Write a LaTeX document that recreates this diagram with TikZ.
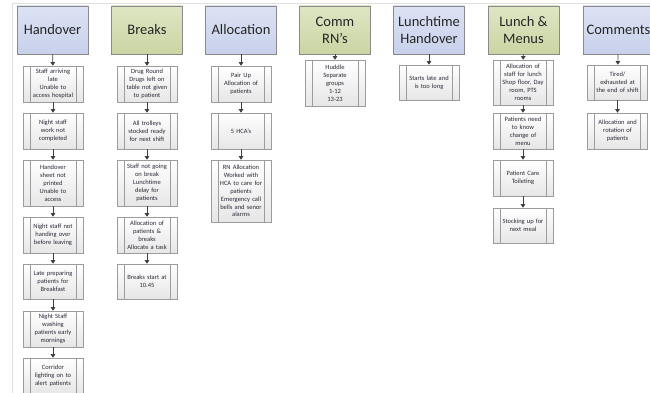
\documentclass[tikz,border=0pt]{standalone}
\usepackage{fontspec}
\setmainfont{Carlito}
\usetikzlibrary{arrows.meta,shadings}
\definecolor{hdrline}{HTML}{8A8A8A}
\definecolor{bluetop}{HTML}{DDE3F4}
\definecolor{bluebot}{HTML}{C8D1EB}
\definecolor{greentop}{HTML}{DEE6C4}
\definecolor{greenbot}{HTML}{CAD5A3}
\definecolor{boxline}{HTML}{9C9C9C}
\definecolor{boxbot}{HTML}{E6E6E6}
\definecolor{arrowc}{HTML}{404040}
\definecolor{txt}{HTML}{2A2A38}
\tikzset{
  hdr/.style={draw=hdrline, line width=0.8pt, minimum width=71pt, minimum height=48pt,
    inner sep=0pt, align=center, font=\fontsize{14.5}{17}\selectfont, text=black!85},
  bluehdr/.style={hdr, top color=bluetop, bottom color=bluebot},
  greenhdr/.style={hdr, top color=greentop, bottom color=greenbot},
  stepbox/.style={draw=boxline, line width=0.6pt, minimum width=60pt, inner xsep=7pt, inner ysep=0pt,
    text width=46pt, align=center, top color=white, bottom color=boxbot,
    font=\fontsize{6.5}{7.9}\selectfont, text=txt,
    path picture={
      \draw[boxline, line width=0.6pt] ([xshift=7pt]path picture bounding box.north west) -- ([xshift=7pt]path picture bounding box.south west);
      \draw[boxline, line width=0.6pt] ([xshift=-7pt]path picture bounding box.north east) -- ([xshift=-7pt]path picture bounding box.south east);
    }},
  link/.style={draw=arrowc, line width=0.6pt, -{Triangle[width=4.5pt,length=3.5pt]}}
}
\begin{document}
\begin{tikzpicture}[x=1pt,y=-1pt]
\useasboundingbox (0,0) rectangle (650,393);
\clip (0,0) rectangle (650,393);
\draw[black!12, line width=0.5pt] (12,400) -- (12,3) -- (660,3);
% Headers
\node[bluehdr]  (H) at (52.5,30) {Handover};
\node[greenhdr] (B) at (147,30) {Breaks};
\node[bluehdr]  (A) at (241,30) {Allocation};
\node[greenhdr] (C) at (335,30) {Comm\\RN’s};
\node[bluehdr]  (L) at (429,30) {Lunchtime\\Handover};
\node[greenhdr] (M) at (523.5,30) {Lunch \&\\Menus};
\node[bluehdr]  (K) at (618.5,30) {Comments};
% Handover column
\node[stepbox, minimum height=36pt] (h1) at (53,84) {Staff arriving\\late\\Unable to\\access hospital};
\node[stepbox, minimum height=36pt] (h2) at (53,131) {Night staff\\work not\\completed};
\node[stepbox, minimum height=46pt] (h3) at (53,183) {Handover\\sheet not\\printed\\Unable to\\access};
\node[stepbox, minimum height=36pt] (h4) at (53,235) {Night staff not\\handing over\\before leaving};
\node[stepbox, minimum height=35pt] (h5) at (53,281.5) {Late preparing\\patients for\\Breakfast};
\node[stepbox, minimum height=36pt] (h6) at (53,329) {Night Staff\\washing\\patients early\\mornings};
\node[stepbox, minimum height=36pt] (h7) at (53,376) {Corridor\\lighting on to\\alert patients};
\draw[link] (H) -- (h1);
\draw[link] (h1) -- (h2);
\draw[link] (h2) -- (h3);
\draw[link] (h3) -- (h4);
\draw[link] (h4) -- (h5);
\draw[link] (h5) -- (h6);
\draw[link] (h6) -- (h7);
% Breaks column
\node[stepbox, minimum height=36pt] (b1) at (147,84) {Drug Round\\Drugs left on\\table not given\\to patient};
\node[stepbox, minimum height=36pt] (b2) at (147,131) {All trolleys\\stocked ready\\for next shift};
\node[stepbox, minimum height=46pt] (b3) at (147,183) {Staff not going\\on break\\Lunchtime\\delay for\\patients};
\node[stepbox, minimum height=36pt] (b4) at (147,235) {Allocation of\\patients \&\\breaks\\Allocate a task};
\node[stepbox, minimum height=35pt] (b5) at (147,281.5) {Breaks start at\\10.45};
\draw[link] (B) -- (b1);
\draw[link] (b1) -- (b2);
\draw[link] (b2) -- (b3);
\draw[link] (b3) -- (b4);
\draw[link] (b4) -- (b5);
% Allocation column
\node[stepbox, minimum height=36pt] (a1) at (241,84) {Pair Up\\Allocation of\\patients};
\node[stepbox, minimum height=36pt] (a2) at (241,131) {5 HCA’s};
\node[stepbox, minimum height=62pt] (a3) at (241,191) {RN Allocation\\Worked with\\HCA to care for\\patients\\Emergency call\\bells and senor\\alarms};
\draw[link] (A) -- (a1);
\draw[link] (a1) -- (a2);
\draw[link] (a2) -- (a3);
% Comm RN's
\node[stepbox, minimum height=46pt] (c1) at (335,83) {Huddle\\Separate\\groups\\1-12\\13-23};
\draw[link] (C) -- (c1);
% Lunchtime Handover
\node[stepbox, minimum height=35pt] (l1) at (429,82.5) {Starts late and\\is too long};
\draw[link] (L) -- (l1);
% Lunch & Menus
\node[stepbox, minimum height=45pt] (m1) at (523,82.5) {Allocation of\\staff for lunch\\Shop floor, Day\\room, PTS\\rooms};
\node[stepbox, minimum height=36pt] (m2) at (523,131) {Patients need\\to know\\change of\\menu};
\node[stepbox, minimum height=36pt] (m3) at (523,178) {Patient Care\\Toileting};
\node[stepbox, minimum height=35pt] (m4) at (523,225.5) {Stocking up for\\next meal};
\draw[link] (M) -- (m1);
\draw[link] (m1) -- (m2);
\draw[link] (m2) -- (m3);
\draw[link] (m3) -- (m4);
% Comments
\node[stepbox, minimum height=35pt] (k1) at (617.5,82.5) {Tired/\\exhausted at\\the end of shift};
\node[stepbox, minimum height=36pt] (k2) at (617.5,131) {Allocation and\\rotation of\\patients};
\draw[link] (K) -- (k1);
\draw[link] (k1) -- (k2);
\end{tikzpicture}
\end{document}
